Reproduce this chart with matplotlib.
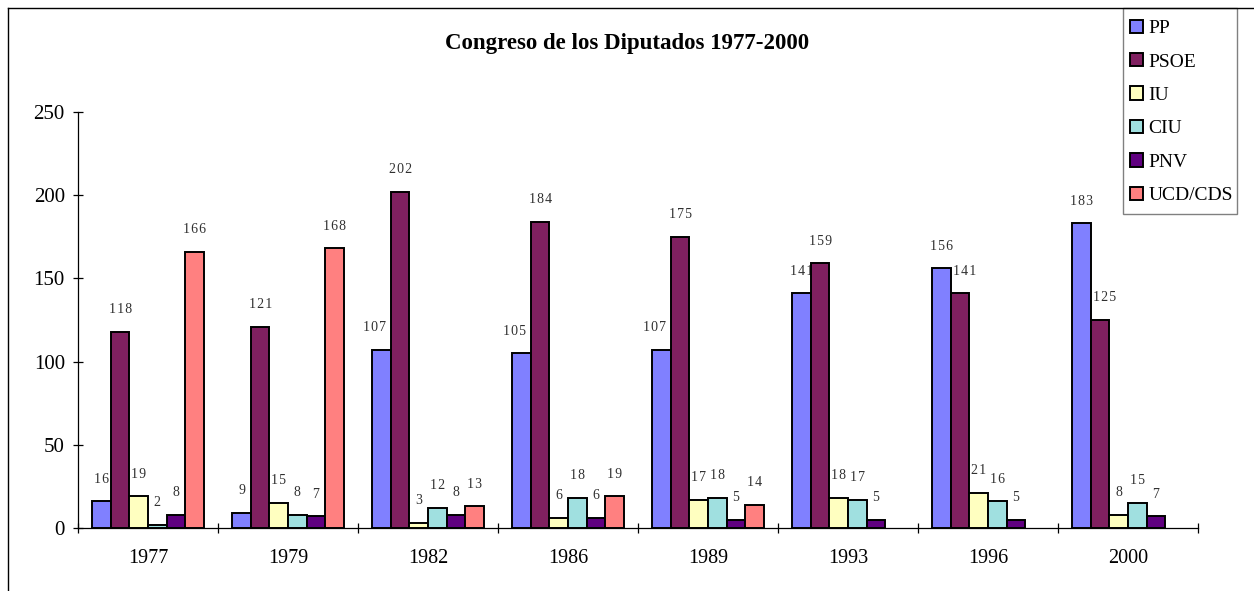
"""
Congreso de los Diputados 1977-2000 — grouped bar chart of seats per party.
Saves out.png (1254x591).
"""

import numpy as np
import matplotlib
matplotlib.use("Agg")
import matplotlib.pyplot as plt
from matplotlib.lines import Line2D
from matplotlib.patches import Rectangle

# ---------------------------------------------------------------------------
# 1.  Data
# ---------------------------------------------------------------------------
years = ["1977", "1979", "1982", "1986", "1989", "1993", "1996", "2000"]
parties = ["PP", "PSOE", "IU", "CIU", "PNV", "UCD/CDS"]

pp   = [16, 9, 107, 105, 107, 141, 156, 183]
psoe = [118, 121, 202, 184, 175, 159, 141, 125]
iu   = [19, 15, 3, 6, 17, 18, 21, 8]
ciu  = [2, 8, 12, 18, 18, 17, 16, 15]
pnv  = [8, 7, 8, 6, 5, 5, 5, 7]
ucd  = [166, 168, 13, 19, 14, None, None, None]

series = [pp, psoe, iu, ciu, pnv, ucd]
colors = ["#8080FF", "#802060", "#FFFFC0", "#A0E0E0", "#600080", "#FF8080"]

# a few value labels sit a little off-centre in the original (points)
LABEL_NUDGE = {
    ("PP", "1982"): -5, ("PP", "1986"): -5, ("PP", "1989"): -5,
    ("PSOE", "1996"): 3.5, ("PSOE", "2000"): 3.5,
}

# ---------------------------------------------------------------------------
# 2.  Plot
# ---------------------------------------------------------------------------
plt.rcParams["font.family"] = ["Liberation Serif", "DejaVu Serif"]

W, H = 1254, 591
fig = plt.figure(figsize=(W / 100, H / 100), dpi=100)
ax = fig.add_axes([78 / W, 63 / H, 1120 / W, 416 / H])

n = len(parties)
width = 0.1325
x = np.arange(len(years))

for i, (name, vals, col) in enumerate(zip(parties, series, colors)):
    vals_arr = np.array([np.nan if v is None else v for v in vals], dtype=float)
    pos = x + (i - (n - 1) / 2) * width
    ax.bar(pos, vals_arr, width, color=col, edgecolor="black",
           linewidth=1.4, label=name, zorder=3)
    # value labels, slightly letter-spaced like the original
    for yr, p, v in zip(years, pos, vals):
        if v is None:
            continue
        dx = LABEL_NUDGE.get((name, yr), 0)
        ax.annotate("\u200a".join(str(v)), xy=(p, v), xytext=(dx, 16),
                    textcoords="offset points", ha="center", va="center",
                    fontsize=10, color="#303030")

ax.set_xlim(-0.5, len(years) - 0.5)
ax.set_ylim(0, 250)
ax.set_yticks(np.arange(0, 251, 50))
ax.tick_params(axis="y", direction="inout", length=7, width=0.9,
               labelsize=15, pad=6)

ax.set_xticks(x)
ax.set_xticklabels(years)
ax.tick_params(axis="x", which="major", length=0, labelsize=14.5, pad=15)
ax.set_xticks(np.arange(-0.5, len(years), 1.0), minor=True)
ax.tick_params(axis="x", which="minor", direction="inout", length=7, width=0.9)

for s in ("top", "right"):
    ax.spines[s].set_visible(False)
for s in ("left", "bottom"):
    ax.spines[s].set_linewidth(0.9)

# Title
fig.text(0.5, 1 - 43 / H, "Congreso de los Diputados 1977-2000",
         ha="center", va="center", fontsize=16.5, fontweight="bold")

# Legend: entries without frame, box drawn separately
fig.legend(loc="upper left", bbox_to_anchor=(1123 / W, 1 - 13 / H),
           fontsize=14, frameon=False, handlelength=0.68, handleheight=0.68,
           handletextpad=0.3, labelspacing=0.82, borderpad=0.34,
           borderaxespad=0)
fig.add_artist(Rectangle((1123 / W, 1 - 214 / H), 114 / W, 206 / H,
                         transform=fig.transFigure, facecolor="none",
                         edgecolor="#808080", linewidth=1.0))

# Outer frame (clipped at right and bottom like the original)
fig.add_artist(Line2D([8 / W, 8 / W], [0, 1 - 8 / H],
                      color="black", linewidth=1.0))
fig.add_artist(Line2D([8 / W, 1], [1 - 8 / H, 1 - 8 / H],
                      color="black", linewidth=1.0))

fig.savefig("out.png", dpi=100)
